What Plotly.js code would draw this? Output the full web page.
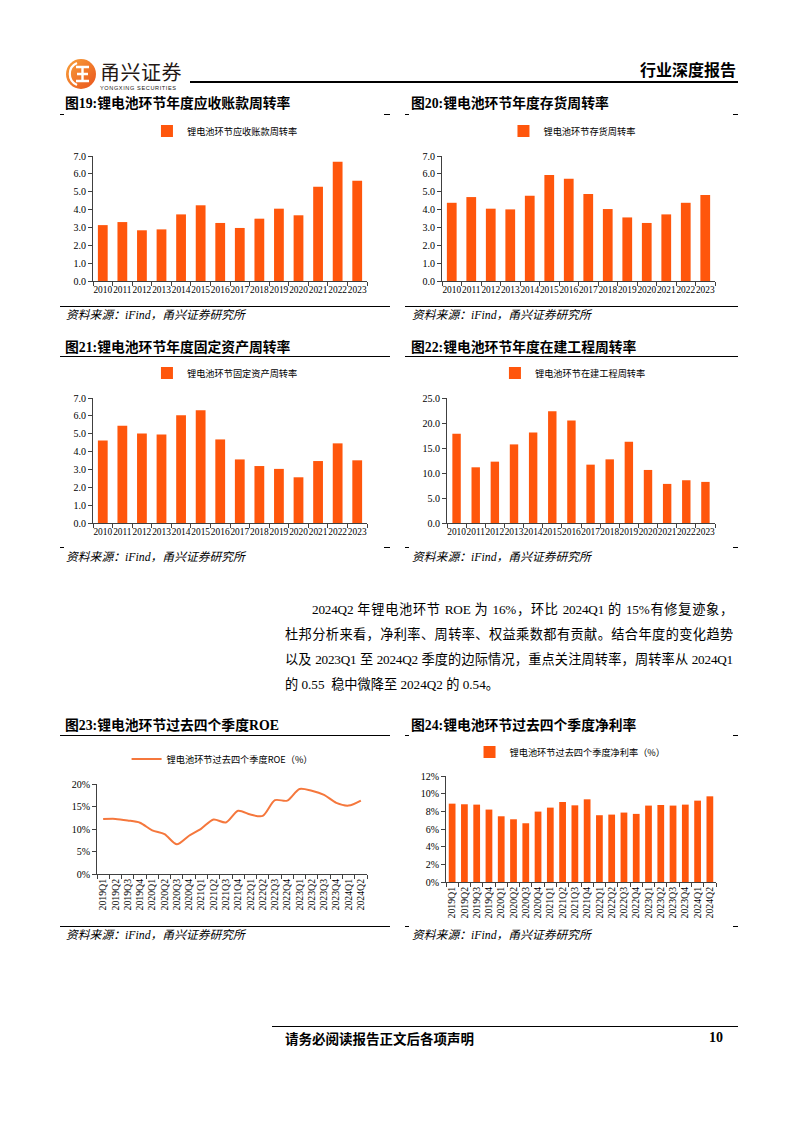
<!DOCTYPE html>
<html><head><meta charset="utf-8">
<script src="https://cdn.plot.ly/plotly-3.0.1.min.js"></script>
<style>
body{margin:0;background:#fff;}
#page{position:relative;width:794px;height:1123px;overflow:hidden;background:#fff;font-family:"Liberation Serif","Noto Sans CJK SC",serif;color:#000;}
.title{position:absolute;font-weight:bold;font-size:13.8px;height:18px;line-height:18px;white-space:nowrap;}
.src{position:absolute;font-style:italic;font-size:11.8px;height:16px;line-height:16px;white-space:nowrap;}
.hl{position:absolute;height:1px;background:#000;}
.chart{position:absolute;background:#fff;}
.pl{position:absolute;font-size:13.2px;height:25px;line-height:25px;white-space:nowrap;}
.just{text-align:justify;text-align-last:justify;white-space:normal;overflow:hidden;letter-spacing:-0.2px;}
</style>
</head><body>
<div id="page">
  <!-- header -->
  <svg style="position:absolute;left:64px;top:57px" width="34" height="34" viewBox="0 0 34 34">
    <defs><linearGradient id="lg" x1="0" y1="0" x2="1" y2="1"><stop offset="0" stop-color="#F9A23A"/><stop offset="1" stop-color="#E9531C"/></linearGradient></defs>
    <circle cx="17" cy="17" r="15" fill="url(#lg)"/>
    <path d="M13 6 A12 12 0 0 0 13 28" stroke="#fff" stroke-width="2.2" fill="none"/>
    <path d="M12 10 H25 M13 17 H24 M12 24 H25 M18.5 10 V24" stroke="#fff" stroke-width="2.4" fill="none"/>
  </svg>
  <div style="position:absolute;left:100px;top:60px;font-family:'Noto Sans CJK SC';font-size:20px;line-height:24px;color:#231815;letter-spacing:0.5px;">甬兴证券</div>
  <div style="position:absolute;left:100px;top:84px;font-family:'Liberation Sans';font-size:5.6px;line-height:8px;color:#231815;letter-spacing:0.6px;">YONGXING SECURITIES</div>
  <div style="position:absolute;left:190px;top:81px;width:548px;height:2px;background:#000;"></div>
  <div style="position:absolute;left:640px;top:59px;font-family:'Noto Sans CJK SC';font-weight:bold;font-size:16px;line-height:20px;">行业深度报告</div>

  <!-- panel lines -->
  <div class="hl" style="left:60px;top:114px;width:4px"></div>
  <div class="hl" style="left:384px;top:114px;width:6px"></div>
  <div class="hl" style="left:405px;top:114px;width:4px"></div>
  <div class="hl" style="left:733px;top:114px;width:5px"></div>
  <div class="hl" style="left:60px;top:306px;width:330px"></div>
  <div class="hl" style="left:405px;top:306px;width:333px"></div>
  <div class="hl" style="left:60px;top:356px;width:330px"></div>
  <div class="hl" style="left:405px;top:356px;width:333px"></div>
  <div class="hl" style="left:60px;top:547px;width:4px"></div>
  <div class="hl" style="left:384px;top:547px;width:6px"></div>
  <div class="hl" style="left:405px;top:547px;width:4px"></div>
  <div class="hl" style="left:733px;top:547px;width:5px"></div>
  <div class="hl" style="left:60px;top:735px;width:330px"></div>
  <div class="hl" style="left:405px;top:735px;width:4px"></div>
  <div class="hl" style="left:733px;top:735px;width:5px"></div>
  <div class="hl" style="left:60px;top:926px;width:330px"></div>
  <div class="hl" style="left:405px;top:926px;width:4px"></div>
  <div class="hl" style="left:733px;top:926px;width:5px"></div>

  <!-- titles -->
  <div class="title" style="left:65px;top:95px">图19:锂电池环节年度应收账款周转率</div>
  <div class="title" style="left:411px;top:95px">图20:锂电池环节年度存货周转率</div>
  <div class="title" style="left:65px;top:339px">图21:锂电池环节年度固定资产周转率</div>
  <div class="title" style="left:411px;top:339px">图22:锂电池环节年度在建工程周转率</div>
  <div class="title" style="left:65px;top:717px">图23:锂电池环节过去四个季度ROE</div>
  <div class="title" style="left:411px;top:717px">图24:锂电池环节过去四个季度净利率</div>

  <!-- sources -->
  <div class="src" style="left:66px;top:307px">资料来源：iFind，甬兴证券研究所</div>
  <div class="src" style="left:412px;top:307px">资料来源：iFind，甬兴证券研究所</div>
  <div class="src" style="left:66px;top:549px">资料来源：iFind，甬兴证券研究所</div>
  <div class="src" style="left:412px;top:549px">资料来源：iFind，甬兴证券研究所</div>
  <div class="src" style="left:66px;top:927px">资料来源：iFind，甬兴证券研究所</div>
  <div class="src" style="left:412px;top:927px">资料来源：iFind，甬兴证券研究所</div>

  <!-- charts -->
  <div id="c19" class="chart" style="left:64px;top:118px;width:320px;height:186px"></div>
  <div id="c20" class="chart" style="left:409px;top:118px;width:324px;height:186px"></div>
  <div id="c21" class="chart" style="left:64px;top:360px;width:320px;height:184px"></div>
  <div id="c22" class="chart" style="left:409px;top:360px;width:324px;height:184px"></div>
  <div id="c23" class="chart" style="left:64px;top:740px;width:320px;height:184px"></div>
  <div id="c24" class="chart" style="left:409px;top:740px;width:324px;height:184px"></div>

  <!-- paragraph -->
  <div class="pl just" style="left:312px;top:597px;width:421px">2024Q2 年锂电池环节 ROE 为 16%，环比 2024Q1 的 15%有修复迹象，</div>
  <div class="pl just" style="left:285px;top:622px;width:448px">杜邦分析来看，净利率、周转率、权益乘数都有贡献。结合年度的变化趋势</div>
  <div class="pl just" style="left:285px;top:647px;width:448px">以及 2023Q1 至 2024Q2 季度的边际情况，重点关注周转率，周转率从 2024Q1</div>
  <div class="pl" style="left:285px;top:672px;">的 0.55&nbsp; 稳中微降至 2024Q2 的 0.54。</div>

  <!-- footer -->
  <div style="position:absolute;left:272px;top:1026px;width:466px;height:1px;background:#000;"></div>
  <div style="position:absolute;left:285px;top:1029px;font-family:'Noto Sans CJK SC';font-weight:bold;font-size:13.5px;line-height:18px;">请务必阅读报告正文后各项声明</div>
  <div style="position:absolute;left:709px;top:1029px;font-family:'Liberation Serif';font-weight:bold;font-size:14px;line-height:18px;">10</div>
</div>
<script>
// ---- data ----
const years = ['2010','2011','2012','2013','2014','2015','2016','2017','2018','2019','2020','2021','2022','2023'];
const arTurnover  = [3.13,3.30,2.84,2.89,3.73,4.24,3.25,2.97,3.49,4.05,3.68,5.28,6.68,5.62];
const invTurnover = [4.38,4.70,4.05,4.01,4.78,5.93,5.73,4.87,4.03,3.56,3.25,3.73,4.38,4.81];
const faTurnover  = [4.62,5.44,5.01,4.96,6.03,6.31,4.68,3.56,3.19,3.03,2.56,3.47,4.46,3.51];
const cipTurnover = [17.84,11.14,12.27,15.72,18.10,22.35,20.49,11.67,12.73,16.25,10.61,7.82,8.55,8.22];
const quarters = ['2019Q1','2019Q2','2019Q3','2019Q4','2020Q1','2020Q2','2020Q3','2020Q4','2021Q1','2021Q2','2021Q3','2021Q4','2022Q1','2022Q2','2022Q3','2022Q4','2023Q1','2023Q2','2023Q3','2023Q4','2024Q1','2024Q2'];
const roeTTM = [12.2,12.25,11.9,11.4,9.7,8.85,6.6,8.5,10.1,12.1,11.45,14.05,13.2,12.9,16.4,16.3,18.9,18.5,17.6,15.8,15.2,16.3];
const netMarginTTM = [8.87,8.80,8.76,8.20,7.44,7.10,6.65,7.97,8.42,9.06,8.68,9.36,7.56,7.63,7.86,7.71,8.65,8.72,8.65,8.76,9.21,9.70];

const names = {
  c19:'锂电池环节应收账款周转率',
  c20:'锂电池环节存货周转率',
  c21:'锂电池环节固定资产周转率',
  c22:'锂电池环节在建工程周转率',
  c23:'锂电池环节过去四个季度ROE（%）',
  c24:'锂电池环节过去四个季度净利率（%）'
};

const BAR = '#FF560C';
const LINE = '#F5773C';
const AX = '#404040';
const FONT = 'Liberation Serif, Noto Sans CJK SC, serif';
const cfg = {staticPlot:true, displayModeBar:false, responsive:false};

function xAxis(n, rotated){
  return {type:'category', range:[-0.5, n-0.5], showline:true, linecolor:AX, linewidth:1,
    ticks:'outside', ticklen:4, tickcolor:AX, tickson:'boundaries',
    tickangle: rotated ? -90 : 0, tickfont:{family:FONT, size: rotated?9.8:9.4, color:'#000'},
    showgrid:false, zeroline:false, automargin:false};
}
function yAxis(range, dtick, fmt, suffix){
  return {range:range, dtick:dtick, tickformat:fmt, ticksuffix:suffix||'', showline:true, linecolor:AX, linewidth:1,
    ticks:'outside', ticklen:4, tickcolor:AX, tickfont:{family:FONT, size:10, color:'#000'},
    showgrid:false, zeroline:false, automargin:false};
}
function legend(x, y){
  return {orientation:'h', xref:'container', yref:'container', x:x, xanchor:'center', y:y, yanchor:'middle',
    font:{family:'Noto Sans CJK SC', size:9.2, color:'#000'}, bgcolor:'rgba(0,0,0,0)'};
}
function layout(m, xa, ya, lg){
  return {width:m.w, height:m.h, margin:{l:m.l, r:m.r, t:m.t, b:m.b, pad:0, autoexpand:false},
    paper_bgcolor:'#fff', plot_bgcolor:'#fff', xaxis:xa, yaxis:ya, showlegend:true, legend:lg,
    font:{family:FONT, color:'#000'}};
}
function barChart(id, xs, ys, m, range, dtick, fmt, suffix, gap, lx, ly, rotated){
  Plotly.newPlot(id, [{type:'bar', x:xs, y:ys, name:names[id], marker:{color:BAR}}],
    Object.assign(layout(m, xAxis(xs.length, rotated), yAxis(range, dtick, fmt, suffix), legend(lx, ly)), {bargap:gap}), cfg);
}

barChart('c19', years, arTurnover,  {w:320,h:186,l:29,r:17,t:38,b:23}, [0,7], 1, '.1f', '', 0.5, 0.503, 0.930, false);
barChart('c20', years, invTurnover, {w:324,h:186,l:33,r:18,t:38,b:23}, [0,7], 1, '.1f', '', 0.5, 0.503, 0.930, false);
barChart('c21', years, faTurnover,  {w:320,h:184,l:29,r:17,t:38,b:21}, [0,7], 1, '.1f', '', 0.5, 0.503, 0.929, false);
barChart('c22', years, cipTurnover, {w:324,h:184,l:38,r:18,t:38,b:21}, [0,25], 5, '.1f', '', 0.56, 0.506, 0.929, false);
barChart('c24', quarters, netMarginTTM, {w:324,h:184,l:37,r:17,t:36,b:42}, [0,12], 2, 'd', '%', 0.45, 0.497, 0.935, true);

Plotly.newPlot('c23', [{type:'scatter', mode:'lines', x:quarters, y:roeTTM, name:names.c23,
    line:{color:LINE, width:2, shape:'spline', smoothing:0.8}}],
  layout({w:320,h:184,l:33,r:17,t:44,b:50}, xAxis(quarters.length, true), yAxis([0,20], 5, 'd', '%'), legend(0.494, 0.897)), cfg);
</script>
</body></html>
